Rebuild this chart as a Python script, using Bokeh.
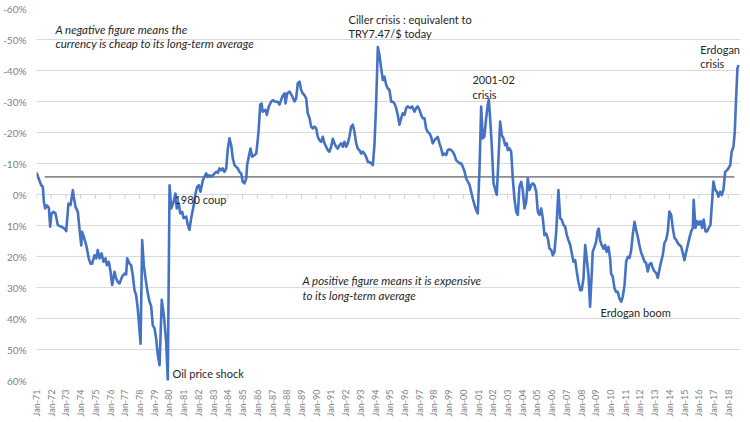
import math
from bokeh.plotting import figure
from bokeh.models import Range1d, FixedTicker, Label, ColumnDataSource
from bokeh.embed import file_html
from bokeh.resources import INLINE

# ---- data ----
dates = [
    1971.00, 1971.16, 1971.32, 1971.43, 1971.50, 1971.59, 1971.70, 1971.84, 1971.93, 1972.02,
    1972.15, 1972.29, 1972.45, 1972.68, 1972.90, 1973.02, 1973.17, 1973.31, 1973.47, 1973.53,
    1973.65, 1973.81, 1973.92, 1974.04, 1974.10, 1974.21, 1974.38, 1974.55, 1974.67, 1974.78,
    1974.94, 1975.06, 1975.16, 1975.28, 1975.42, 1975.55, 1975.69, 1975.78, 1975.91, 1976.03,
    1976.14, 1976.30, 1976.41, 1976.52, 1976.64, 1976.82, 1976.98, 1977.09, 1977.16, 1977.32,
    1977.43, 1977.54, 1977.66, 1977.77, 1977.88, 1978.07, 1978.18, 1978.29, 1978.45, 1978.56,
    1978.68, 1978.79, 1978.90, 1979.02, 1979.13, 1979.24, 1979.36, 1979.51, 1979.65, 1979.81,
    1979.92,
    1980.04, 1980.15, 1980.31, 1980.44, 1980.53, 1980.67, 1980.76, 1980.90, 1980.99, 1981.17,
    1981.28, 1981.39, 1981.51, 1981.62, 1981.73, 1981.80, 1981.92, 1982.03, 1982.14, 1982.30,
    1982.41, 1982.53, 1982.64, 1982.75, 1982.87, 1982.98, 1983.09, 1983.21, 1983.32, 1983.43,
    1983.55, 1983.66, 1983.77, 1983.89, 1984.00, 1984.11, 1984.23, 1984.34, 1984.45, 1984.57,
    1984.68, 1984.79, 1984.91, 1985.01, 1985.13, 1985.25, 1985.31, 1985.42, 1985.54, 1985.65,
    1985.81, 1985.93, 1986.03, 1986.10, 1986.20, 1986.29, 1986.37, 1986.56, 1986.65, 1986.78,
    1986.94, 1987.05, 1987.24, 1987.39, 1987.51, 1987.69, 1987.85,
    1987.92, 1988.03, 1988.19, 1988.34, 1988.53, 1988.64, 1988.75, 1988.87, 1988.98, 1989.09,
    1989.21, 1989.32, 1989.43, 1989.55, 1989.66, 1989.77, 1989.89, 1990.00, 1990.11, 1990.23,
    1990.34, 1990.45, 1990.57, 1990.68, 1990.79, 1990.90, 1991.02, 1991.13, 1991.24, 1991.36,
    1991.47, 1991.58, 1991.70, 1991.81, 1991.92, 1992.04, 1992.15, 1992.26, 1992.38, 1992.49,
    1992.60, 1992.72, 1992.83, 1992.94, 1993.06, 1993.17, 1993.28, 1993.40, 1993.51, 1993.62,
    1993.74, 1993.85, 1993.96, 1994.08, 1994.19, 1994.30, 1994.42, 1994.53, 1994.64, 1994.76,
    1994.87, 1994.98, 1995.10, 1995.21, 1995.32, 1995.44, 1995.54, 1995.66,
    1995.78, 1995.88, 1996.00, 1996.12, 1996.22, 1996.39, 1996.52, 1996.68, 1996.80, 1996.90,
    1997.02, 1997.13, 1997.24, 1997.36, 1997.47, 1997.58, 1997.70, 1997.81, 1997.92, 1998.04,
    1998.15, 1998.26, 1998.38, 1998.49, 1998.60, 1998.72, 1998.83, 1998.94, 1999.06, 1999.17,
    1999.28, 1999.40, 1999.51, 1999.62, 1999.74, 1999.85, 1999.96, 2000.08, 2000.19, 2000.30,
    2000.42, 2000.53, 2000.64, 2000.76, 2000.87, 2000.98, 2001.10, 2001.21, 2001.32, 2001.43,
    2001.55, 2001.66, 2001.73, 2001.82, 2001.93, 2002.05, 2002.18, 2002.27, 2002.39, 2002.50,
    2002.61, 2002.73, 2002.84, 2002.95, 2003.02, 2003.13, 2003.25, 2003.36, 2003.47, 2003.59,
    2003.70, 2003.81, 2003.93, 2004.04, 2004.15, 2004.27, 2004.38, 2004.49, 2004.61, 2004.72,
    2004.83, 2004.95, 2005.06, 2005.17, 2005.29, 2005.40, 2005.51, 2005.63, 2005.74, 2005.85,
    2005.97, 2006.08, 2006.19, 2006.31, 2006.37, 2006.46, 2006.58, 2006.69, 2006.80, 2006.92,
    2007.03, 2007.14, 2007.26, 2007.37, 2007.48, 2007.60, 2007.71, 2007.82, 2007.94, 2008.04,
    2008.16, 2008.28, 2008.38, 2008.50, 2008.61, 2008.72, 2008.79, 2008.91, 2009.02, 2009.13,
    2009.20, 2009.29, 2009.40, 2009.52, 2009.63, 2009.74, 2009.86, 2009.97, 2010.04, 2010.15,
    2010.27, 2010.38, 2010.49, 2010.61, 2010.72, 2010.83, 2010.95, 2011.06, 2011.17, 2011.29,
    2011.40, 2011.51, 2011.63, 2011.74, 2011.85, 2011.96, 2012.08, 2012.19, 2012.30, 2012.42,
    2012.53, 2012.64, 2012.76, 2012.87, 2012.98, 2013.10, 2013.21, 2013.32, 2013.44, 2013.55,
    2013.66, 2013.78, 2013.89, 2014.00, 2014.12, 2014.23, 2014.34, 2014.46, 2014.57, 2014.68,
    2014.80, 2014.91, 2015.02, 2015.14, 2015.25, 2015.36, 2015.48, 2015.59, 2015.65, 2015.77,
    2015.88, 2015.99, 2016.11, 2016.22, 2016.33, 2016.45, 2016.56, 2016.67, 2016.79, 2016.90,
    2016.99, 2017.11, 2017.22, 2017.33, 2017.45, 2017.56, 2017.67, 2017.79, 2017.90, 2018.01,
    2018.13, 2018.23, 2018.35, 2018.44, 2018.53, 2018.62, 2018.69,
]

valuation = [
    -7.1, -5.0, -3.0, -2.5, 2.4, 4.5, 3.5, 4.3, 10.4, 6.1,
    5.6, 6.1, 9.9, 10.4, 11.0, 11.8, 2.9, 3.4, -1.4, 0.7,
    4.0, 5.6, 11.0, 16.4, 12.0, 13.6, 16.4, 20.6, 22.3, 22.3,
    19.6, 20.6, 17.9, 20.6, 19.0, 21.7, 20.6, 22.8, 21.7, 24.9,
    29.2, 24.9, 27.1, 28.2, 28.7, 26.5, 25.5, 25.8, 20.6, 22.3,
    22.8, 26.0, 30.9, 32.5, 36.8, 48.1, 14.7, 22.8, 28.5, 31.9,
    34.6, 36.0, 42.2, 43.2, 46.5, 51.8, 55.1, 34.0, 38.9, 47.5,
    60.0,
    -3.0, 4.5, 2.4, -0.3, 4.5, 2.9, 6.1, 5.6, 7.6, 7.1,
    9.8, 11.4, 7.6, 4.9, 2.4, -0.3, -2.5, -3.0, -0.9, -4.6,
    -5.7, -6.8, -5.7, -6.2, -5.7, -6.2, -6.8, -7.3, -7.0, -8.4,
    -7.8, -8.4, -7.3, -8.4, -14.8, -18.1, -15.9, -11.6, -9.5, -8.9,
    -8.4, -7.3, -6.8, -4.1, -3.6, -5.2, -9.5, -12.2, -14.8, -12.2,
    -12.7, -13.2, -17.5, -21.3, -29.0, -29.4, -26.7, -27.3, -25.7, -28.3,
    -29.9, -30.4, -29.9, -29.9, -29.0, -31.5, -32.6,
    -29.4, -32.6, -33.2, -32.0, -30.0, -31.0, -35.8, -36.4, -33.7, -32.6,
    -32.0, -31.0, -26.2, -24.6, -21.9, -21.3, -21.9, -21.3, -18.6, -17.5,
    -17.0, -18.6, -16.5, -15.4, -14.3, -13.8, -15.4, -18.0, -16.5, -15.4,
    -14.8, -15.9, -16.5, -15.4, -17.0, -15.4, -16.5, -18.6, -21.9, -22.5,
    -20.3, -16.5, -14.8, -14.3, -13.2, -13.8, -13.2, -12.1, -10.5, -10.5,
    -10.0, -9.5, -15.9, -29.9, -47.6, -45.0, -40.6, -36.9, -38.0, -35.3,
    -34.2, -33.7, -29.9, -29.9, -29.4, -27.8, -25.7, -22.5,
    -24.6, -26.2, -25.7, -27.9, -28.4, -27.9, -28.4, -26.7, -27.9, -28.4,
    -27.3, -25.7, -24.6, -24.6, -21.3, -20.2, -19.7, -18.6, -16.5, -17.5,
    -18.1, -18.6, -16.5, -14.9, -12.7, -13.2, -12.7, -14.3, -14.6, -14.3,
    -13.8, -12.7, -11.1, -10.6, -10.1, -10.1, -9.0, -7.4, -5.2, -4.2,
    -3.1, -0.9, 1.3, 3.4, 5.0, 6.1, -8.4, -28.4, -18.1, -18.7,
    -24.6, -29.0, -30.6, -24.6, -15.9, -3.6, -1.4, 0.1, -11.6, -23.5,
    -19.2, -18.1, -15.9, -16.5, -14.3, -14.9, -13.8, -5.2, 1.3, 5.6,
    6.6, -2.5, -4.1, -1.4, 4.5, 2.4, -5.2, -1.4, -3.0, -3.6,
    -3.0, -0.9, 5.6, 6.6, 4.5, 7.7, 13.1, 12.6, 14.2, 17.4,
    17.9, 19.6, 18.5, 12.0, 6.6, -1.4, 7.7, 8.2, 9.8, 10.4,
    13.1, 14.7, 16.3, 19.0, 21.7, 21.2, 25.0, 28.2, 30.9, 30.9,
    27.1, 16.3, 20.6, 25.9, 36.2, 25.9, 18.5, 16.9, 15.3, 11.6,
    11.0, 14.7, 16.3, 17.5, 16.3, 18.5, 16.9, 20.6, 25.5, 26.5,
    30.3, 31.4, 31.4, 33.6, 34.6, 33.0, 29.3, 21.7, 20.1, 20.5,
    18.0, 13.0, 8.8, 11.5, 13.6, 16.3, 18.8, 20.0, 21.6, 22.1,
    24.8, 22.6, 22.1, 23.7, 24.8, 25.3, 26.9, 24.3, 21.6, 19.5,
    15.7, 14.6, 11.9, 5.5, 6.6, 10.8, 14.0, 14.6, 15.7, 16.3,
    16.8, 18.9, 21.2, 18.5, 16.3, 14.0, 11.9, 10.8, 1.7, 10.8,
    8.6, 9.7, 8.6, 10.8, 8.1, 11.9, 11.9, 10.8, 9.7, 2.2,
    -4.2, -1.5, -0.9, 0.7, -0.9, 0.2, -1.5, -7.3, -7.8, -8.4,
    -9.5, -13.8, -15.4, -20.2, -30.9, -40.6, -41.7,
]

avg_start = [1971.55]
avg_end = [2018.42]
avg_level = [-5.7]

tick_years = list(range(1971, 2019))
tick_labels = ["Jan-%02d" % (y % 100) for y in tick_years]
y_ticks = [-60, -50, -40, -30, -20, -10, 0, 10, 20, 30, 40, 50, 60]
y_labels = ["-60%", "-50%", "-40%", "-30%", "-20%", "-10%", "0%",
            "10%", "20%", "30%", "40%", "50%", "60%"]

FONT = "Lato"
TEXT = "#262626"

p = figure(frame_width=704, frame_height=372, output_backend="svg",
           toolbar_location=None,
           x_range=Range1d(1971.0, 2018.83), y_range=Range1d(60, -60),
           min_border_left=0, min_border_right=1, min_border_top=8,
           min_border_bottom=0)
p.outline_line_color = None
p.background_fill_color = "white"
p.border_fill_color = "white"
p.xgrid.visible = False
p.ygrid.grid_line_color = "#d9d9d9"
p.ygrid.grid_line_width = 1

p.yaxis.ticker = FixedTicker(ticks=y_ticks)
p.yaxis.major_label_overrides = dict(zip(y_ticks, y_labels))
p.xaxis.ticker = FixedTicker(ticks=tick_years)
p.xaxis.major_label_overrides = dict(zip(tick_years, tick_labels))
p.xaxis.major_label_orientation = math.pi / 2
for ax in (p.xaxis, p.yaxis):
    ax.axis_line_color = None
    ax.major_tick_line_color = None
    ax.minor_tick_line_color = None
    ax.major_tick_out = 0
    ax.major_tick_in = 0
    ax.minor_tick_out = 0
    ax.minor_tick_in = 0
    ax.major_label_text_color = "#7f7f7f"
    ax.major_label_text_font = FONT
p.yaxis.major_label_text_font_size = "10px"
p.xaxis.major_label_text_font_size = "9px"
p.yaxis.major_label_standoff = 10
p.xaxis.major_label_standoff = 9

# axis ticks along the 0% line
p.segment(x0=tick_years, x1=tick_years, y0=[0] * len(tick_years),
          y1=[1.4] * len(tick_years), line_color="#d0d0d0", line_width=1)

# long-term average line
p.segment(x0=avg_start, x1=avg_end, y0=avg_level, y1=avg_level,
          line_color="#8c8c8c", line_width=1.6)

src = ColumnDataSource(data=dict(x=dates, y=valuation))
p.line("x", "y", source=src, line_color="#4472C4", line_width=2.6,
       line_join="round")

notes = [
    (1972.29, -53.3, "A negative figure means the", "italic"),
    (1972.29, -48.8, "currency is cheap to its long-term average", "italic"),
    (1992.20, -56.5, "Ciller crisis : equivalent to", "normal"),
    (1992.20, -52.0, "TRY7.47/$ today", "normal"),
    (2000.62, -36.9, "2001-02", "normal"),
    (2000.62, -32.2, "crisis", "normal"),
    (2016.10, -46.9, "Erdogan", "normal"),
    (2016.10, -42.4, "crisis", "normal"),
    (1980.37, 1.5, "1980 coup", "normal"),
    (1980.24, 57.6, "Oil price shock", "normal"),
    (1989.07, 27.6, "A positive figure means it is expensive", "italic"),
    (1989.07, 32.5, "to its long-term average", "italic"),
    (2009.32, 38.0, "Erdogan boom", "normal"),
]
for x, y, t, style in notes:
    size = "11.5px" if style == "italic" else "11px"
    p.add_layout(Label(x=x, y=y, text=t, text_font=FONT, text_font_size=size,
                       text_font_style=style, text_color=TEXT,
                       text_baseline="middle", text_align="left"))

open("out.html", "w").write(file_html(p, INLINE))
